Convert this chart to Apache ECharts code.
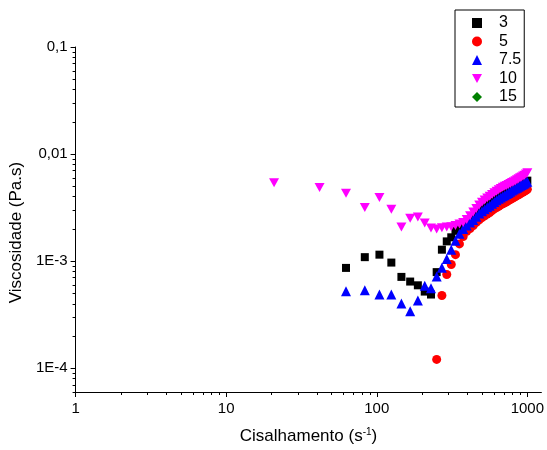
<!DOCTYPE html>
<html>
<head>
<meta charset="utf-8">
<script src="https://cdn.jsdelivr.net/npm/echarts@6/dist/echarts.min.js"></script>
<style>
  html, body { margin: 0; padding: 0; background: #fff; }
  #chart { width: 547px; height: 450px; }
</style>
</head>
<body>
<div id="chart"></div>
<script>
// shear rates (s^-1), one reading every ~20.8 s^-1
var shear = [20.8, 41.7, 62.5, 83.3, 104.2, 125, 145.8, 166.7, 187.5, 208.3, 229.2, 250,
    270.8, 291.7, 312.5, 333.3, 354.2, 375, 395.8, 416.7, 437.5, 458.3, 479.2, 500,
    520.8, 541.7, 562.5, 583.3, 604.2, 625, 645.8, 666.7, 687.5, 708.3, 729.2, 750,
    770.8, 791.7, 812.5, 833.3, 854.2, 875, 895.8, 916.7, 937.5, 958.3, 979.2, 1000];

// viscosity (Pa.s) per sample; first value matches shear[start]
var visc3 = [8.65e-4, 1.09e-3, 1.15e-3, 9.7e-4, 7.13e-4, 6.45e-4, 5.95e-4, 5.2e-4, 4.88e-4,
    7.9e-4, 1.28e-3, 1.53e-3, 1.67e-3, 1.92e-3, 2.05e-3, 2.18e-3, 2.3e-3, 2.42e-3, 2.55e-3,
    2.7e-3, 2.85e-3, 2.98e-3, 3.1e-3, 3.22e-3, 3.35e-3, 3.47e-3, 3.6e-3, 3.72e-3, 3.84e-3,
    3.95e-3, 4.06e-3, 4.17e-3, 4.28e-3, 4.38e-3, 4.5e-3, 4.6e-3, 4.7e-3, 4.8e-3, 4.9e-3,
    5.0e-3, 5.1e-3, 5.2e-3, 5.3e-3, 5.4e-3, 5.5e-3, 5.65e-3];
var start3 = 2;

var visc5 = [1.21e-4, 4.78e-4, 7.5e-4, 9.3e-4, 1.15e-3, 1.45e-3, 1.7e-3, 1.9e-3, 2.02e-3,
    2.15e-3, 2.3e-3, 2.43e-3, 2.55e-3, 2.65e-3, 2.75e-3, 2.85e-3, 2.97e-3, 3.08e-3, 3.17e-3,
    3.26e-3, 3.35e-3, 3.43e-3, 3.51e-3, 3.59e-3, 3.68e-3, 3.76e-3, 3.85e-3, 3.93e-3, 4.01e-3,
    4.09e-3, 4.17e-3, 4.26e-3, 4.34e-3, 4.43e-3, 4.51e-3, 4.6e-3, 4.7e-3];
var start5 = 11;

var visc75 = [5.25e-4, 5.36e-4, 4.89e-4, 4.89e-4, 4.03e-4, 3.41e-4, 4.3e-4, 5.9e-4, 5.6e-4,
    7.2e-4, 8.7e-4, 1.05e-3, 1.28e-3, 1.55e-3, 1.8e-3, 2.0e-3, 2.15e-3, 2.3e-3, 2.42e-3,
    2.6e-3, 2.78e-3, 2.92e-3, 3.05e-3, 3.18e-3, 3.3e-3, 3.44e-3, 3.57e-3, 3.7e-3, 3.82e-3,
    3.93e-3, 4.03e-3, 4.13e-3, 4.23e-3, 4.34e-3, 4.46e-3, 4.56e-3, 4.66e-3, 4.76e-3, 4.86e-3,
    4.96e-3, 5.05e-3, 5.13e-3, 5.22e-3, 5.32e-3, 5.42e-3, 5.52e-3];
var start75 = 2;

var visc10 = [5.4e-3, 4.87e-3, 4.3e-3, 3.17e-3, 3.94e-3, 3.06e-3, 2.08e-3, 2.52e-3, 2.58e-3,
    2.27e-3, 2.04e-3, 2.0e-3, 2.05e-3, 2.08e-3, 2.1e-3, 2.15e-3, 2.22e-3, 2.3e-3, 2.45e-3,
    2.65e-3, 2.88e-3, 3.1e-3, 3.35e-3, 3.55e-3, 3.72e-3, 3.88e-3, 4.04e-3, 4.2e-3, 4.35e-3,
    4.5e-3, 4.64e-3, 4.78e-3, 4.9e-3, 5.0e-3, 5.1e-3, 5.2e-3, 5.3e-3, 5.42e-3, 5.53e-3,
    5.65e-3, 5.75e-3, 5.88e-3, 6.0e-3, 6.1e-3, 6.25e-3, 6.36e-3, 6.5e-3, 6.7e-3];
var start10 = 0;

var visc15 = [];

var seriesColors = ['#000000', '#ff0000', '#0000ff', '#ff00ff', '#008000'];

var xMajor = [1, 10, 100, 1000];
var yMajor = [1e-4, 1e-3, 1e-2, 1e-1];
var yLabels = {'0.0001': '1E-4', '0.001': '1E-3', '0.01': '0,01', '0.1': '0,1'};

function pairs(vals, start)
{
    var out = [];
    for (var i = 0; i < vals.length; i++) {
        out.push([shear[start + i], vals[i]]);
    }
    return out;
}

// tick positions in decade units, for the tick-only axes
function decades(list)
{
    return list.map(function (v) { return Math.log(v) / Math.LN10; });
}

function minorValues(lo, hi)
{
    var out = [];
    for (var d = lo; d < hi; d *= 10) {
        for (var k = 2; k <= 9; k++) {
            out.push(d * k);
        }
    }
    return out;
}

var xMin = 1, xMax = 1240, yMin = 6e-5, yMax = 0.1;

var chart = echarts.init(document.getElementById('chart'));

var font = "'Liberation Sans', Arial, sans-serif";

function tickAxis(lo, hi, values, len, pos)
{
    return {
        type: 'value',
        position: pos,
        min: Math.log(lo) / Math.LN10,
        max: Math.log(hi) / Math.LN10,
        splitLine: { show: false },
        axisLine: { show: false },
        axisLabel: { show: false },
        axisPointer: { show: false },
        axisTick: { show: true, customValues: decades(values), length: len, lineStyle: { color: '#000', width: 1 } }
    };
}

var yMinorList = minorValues(1e-5, 0.1).filter(function (v) { return v >= yMin && v <= yMax; });
var xMinorList = minorValues(1, 1000).filter(function (v) { return v >= xMin && v <= xMax; });

var options = {
    backgroundColor: '#ffffff',
    animation: false,
    textStyle: { fontFamily: font },
    grid: { left: 75, right: 2, top: 47, bottom: 57 },
    legend: {
        orient: 'vertical',
        left: 455,
        top: 10,
        padding: [4, 3, 1, 17],
        itemWidth: 10,
        itemHeight: 10,
        itemGap: 0.5,
        borderColor: '#000',
        borderWidth: 1,
        textStyle: { fontFamily: font, fontSize: 16, color: '#000', lineHeight: 18, padding: [0, 0, 0, 12] },
        data: [
            { name: '3', icon: 'rect' },
            { name: '5', icon: 'circle' },
            { name: '7.5', icon: 'triangle' },
            { name: '10', icon: 'path://M0,0 L10,0 L5,9 Z' },
            { name: '15', icon: 'diamond' }
        ]
    },
    xAxis: [
        {
            type: 'log',
            min: xMin,
            max: xMax,
            name: '{a|Cisalhamento (s}{s|-1}{a|)}',
            nameLocation: 'middle',
            nameGap: 35,
            nameTextStyle: {
                rich: {
                    a: { fontFamily: font, fontSize: 17, color: '#000' },
                    s: { fontFamily: font, fontSize: 10, color: '#000', verticalAlign: 'top', padding: [0, 0, 9, 0] }
                }
            },
            splitLine: { show: false },
            axisLine: { lineStyle: { color: '#000', width: 1 } },
            axisTick: { show: false },
            axisLabel: {
                customValues: xMajor,
                color: '#000',
                fontFamily: font,
                fontSize: 15,
                margin: 9,
                formatter: function (v) { return String(Math.round(v)); }
            }
        },
        tickAxis(xMin, xMax, xMajor, 5, 'bottom'),
        tickAxis(xMin, xMax, xMinorList, 3, 'bottom')
    ],
    yAxis: [
        {
            type: 'log',
            min: yMin,
            max: yMax,
            name: 'Viscosidade (Pa.s)',
            nameLocation: 'middle',
            nameGap: 47,
            nameTextStyle: { fontFamily: font, fontSize: 17, color: '#000', padding: [0, 26, 0, 0] },
            splitLine: { show: false },
            axisLine: { lineStyle: { color: '#000', width: 1 } },
            axisTick: { show: false },
            axisLabel: {
                customValues: yMajor,
                color: '#000',
                fontFamily: font,
                fontSize: 15,
                margin: 8,
                formatter: function (v) { return yLabels[String(+v.toPrecision(3))] || ''; }
            }
        },
        tickAxis(yMin, yMax, yMajor, 5, 'left'),
        tickAxis(yMin, yMax, yMinorList, 3, 'left')
    ],
    series: [
        { name: '3', type: 'scatter', symbol: 'rect', symbolSize: 8, data: pairs(visc3, start3) },
        { name: '5', type: 'scatter', symbol: 'circle', symbolSize: 9, data: pairs(visc5, start5) },
        { name: '7.5', type: 'scatter', symbol: 'triangle', symbolSize: 10, data: pairs(visc75, start75) },
        { name: '10', type: 'scatter', symbol: 'path://M0,0 L10,0 L5,9 Z', symbolSize: [10, 9], data: pairs(visc10, start10) },
        { name: '15', type: 'scatter', symbol: 'diamond', symbolSize: 10, data: pairs(visc15, 0) }
    ].map(function (s, i) {
        s.itemStyle = { color: seriesColors[i], opacity: 1 };
        s.emphasis = { disabled: true };
        return s;
    })
};

chart.setOption(options);
</script>
</body>
</html>
